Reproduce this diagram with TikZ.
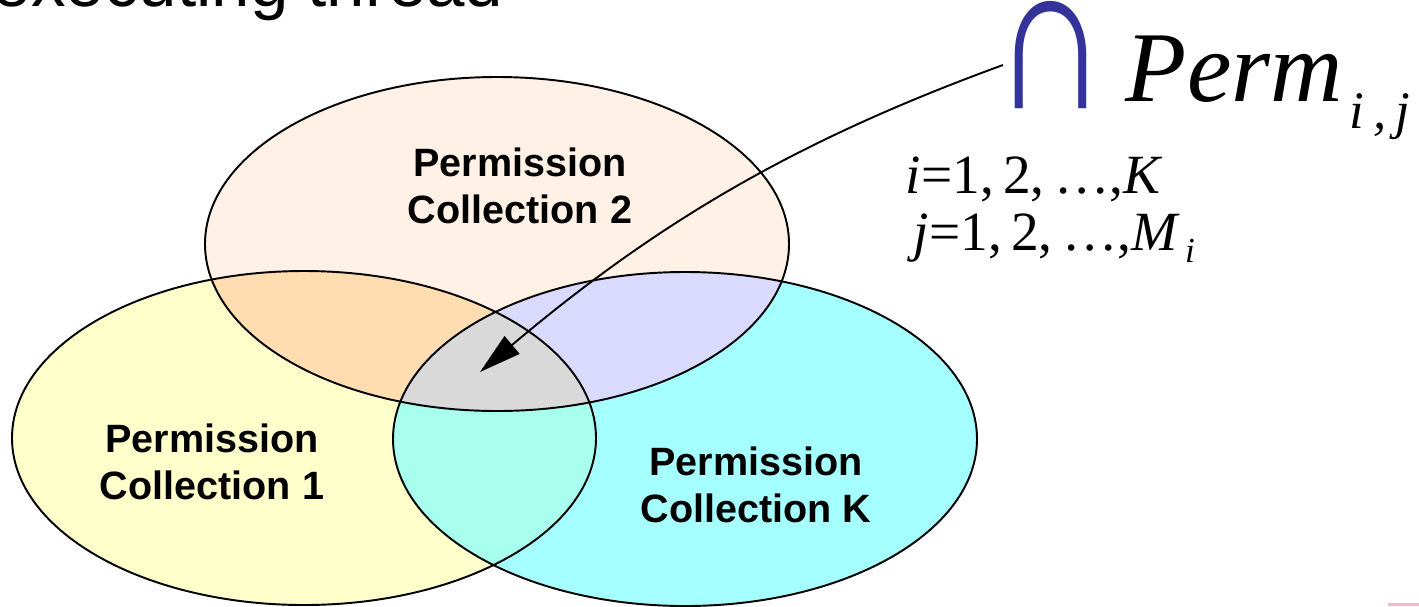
\documentclass[tikz,border=0pt]{standalone}
\usepackage{fontspec}
\setmainfont{Liberation Serif}
\newfontfamily\arialfont{Liberation Sans}
\usetikzlibrary{arrows.meta}
\definecolor{collone}{HTML}{FFFFCC}
\definecolor{colltwo}{HTML}{FFF1E5}
\definecolor{collk}{HTML}{A6FFFF}
\definecolor{onetwo}{HTML}{FFDDB0}
\definecolor{twok}{HTML}{DADAFF}
\definecolor{onek}{HTML}{A8FFEE}
\definecolor{allthree}{HTML}{D9D9D9}
\definecolor{capblue}{HTML}{333399}
\definecolor{pinkbar}{HTML}{F2B8D2}
\newcommand{\setone}{(304,438) ellipse [x radius=292, y radius=167]}
\newcommand{\settwo}{(497,244) ellipse [x radius=292, y radius=167]}
\newcommand{\setk}{(685,439) ellipse [x radius=292, y radius=167]}

\begin{document}
\begin{tikzpicture}[x=0.02cm, y=-0.02cm, line width=1.1pt,
  collabel/.style={font=\arialfont\bfseries\fontsize{22.5}{26.5}\selectfont, align=center, inner sep=0pt},
  formula/.style={inner sep=0pt, anchor=base west}]
  \useasboundingbox (0,0) rectangle (1419,606);
  % title, cut off by the top edge
  \node[formula, font=\arialfont\fontsize{39.3}{40}\selectfont] (title) at (-8,6) {executing thread};
  % the three collections
  \fill[collone] \setone;
  \fill[colltwo] \settwo;
  \fill[collk] \setk;
  \begin{scope}
    \clip \setone;
    \fill[onetwo] \settwo;
    \fill[onek] \setk;
  \end{scope}
  \begin{scope}
    \clip \settwo;
    \fill[twok] \setk;
  \end{scope}
  \begin{scope}
    \clip \setone;
    \clip \settwo;
    \fill[allthree] \setk;
  \end{scope}
  \draw \setone;
  \draw \settwo;
  \draw \setk;
  \node[collabel] (two) at (520,186) {Permission\\Collection 2};
  \node[collabel] (one) at (212,462) {Permission\\Collection 1};
  \node[collabel] (kay) at (756,485) {Permission\\Collection K};
  % intersection formula
  \node[inner sep=0pt, anchor=base, text=capblue, font=\arialfont\fontsize{91}{96}\selectfont] (cap) at (1051,108)
    {\raisebox{0pt}[1.9cm][0pt]{\scalebox{1}[1.33]{∩}}};
  \node[formula, font=\itshape\fontsize{57}{60}\selectfont] (perm) at (1125,101)
    {Perm\hspace{4pt}\raisebox{-15.9pt}{\fontsize{30}{32}\selectfont i\,,\,j}};
  \node[formula, font=\fontsize{31.5}{34}\selectfont] (irange) at (905,193)
    {\textit{i}=1,\,2,\,…,\textit{K}};
  \node[formula, font=\fontsize{31.5}{34}\selectfont] (jrange) at (913,250)
    {\textit{j}=1,\,2,\,…,\textit{M}\hspace{3pt}\raisebox{-7pt}{\fontsize{20}{22}\selectfont\textit{i}}};
  % pointer into the common part
  \coordinate (src) at (1003,65);
  \coordinate (tip) at (480,372);
  \draw[-{Triangle[length=0.84cm,width=0.46cm]}] (src) .. controls (800,139) and (660,220) .. (tip);
  \fill[pinkbar] (1388,603) rectangle (1419,606);
\end{tikzpicture}
\end{document}
